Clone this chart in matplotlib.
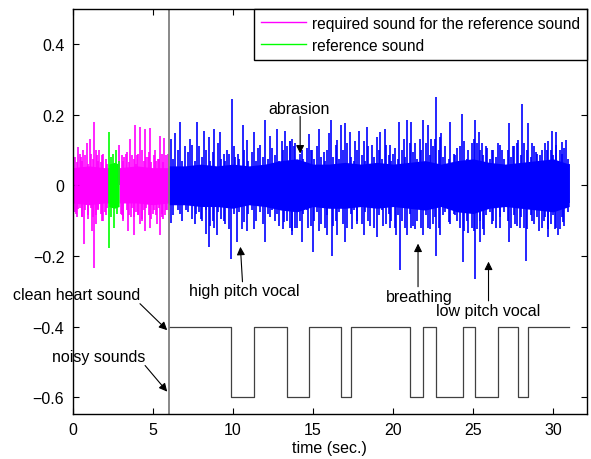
import numpy as np
import matplotlib
matplotlib.use('Agg')
import matplotlib.pyplot as plt

plt.rcParams['font.family'] = ['Liberation Sans', 'DejaVu Sans']
plt.rcParams['font.size'] = 11.5

# ---- data ---------------------------------------------------------
# dense core of each signal (upper / lower envelope)
mag_core_t  = [0, 1, 2, 2.25]
mag_core_hi = [0.05, 0.055, 0.05, 0.05]
mag_core_lo = [-0.05, -0.055, -0.05, -0.05]
mag_core2_t  = [2.9, 4, 5, 6]
mag_core2_hi = [0.05, 0.055, 0.05, 0.05]
mag_core2_lo = [-0.05, -0.05, -0.055, -0.05]

grn_core_t  = [2.25, 2.6, 2.9]
grn_core_hi = [0.06, 0.065, 0.06]
grn_core_lo = [-0.06, -0.065, -0.06]

blu_core_t  = [6, 7, 8, 9, 10, 11, 12, 13, 14, 15, 16, 17, 18, 19, 20, 21, 22,
               23, 24, 25, 26, 27, 28, 29, 30, 31]
blu_core_hi = [0.055, 0.055, 0.06, 0.055, 0.06, 0.055, 0.06, 0.07, 0.075, 0.06,
               0.06, 0.065, 0.06, 0.065, 0.06, 0.065, 0.07, 0.06, 0.07, 0.075,
               0.065, 0.06, 0.065, 0.07, 0.075, 0.06]
blu_core_lo = [-0.055, -0.055, -0.06, -0.06, -0.065, -0.055, -0.06, -0.07, -0.075,
               -0.06, -0.065, -0.065, -0.06, -0.065, -0.06, -0.065, -0.07, -0.06,
               -0.075, -0.08, -0.065, -0.06, -0.065, -0.07, -0.075, -0.06]

# large spikes (time, amplitude)
mag_up_t = [0.04, 0.35, 0.66, 0.87, 1.08, 1.35, 1.66, 1.91, 2.92, 3.2, 3.58, 3.89,
            4.2, 4.52, 4.83, 5.14, 5.45, 5.7, 5.97, 0.5, 1.5, 3.3, 4.0, 4.7, 5.3]
mag_up_v = [0.109, 0.109, 0.10, 0.12, 0.13, 0.178, 0.10, 0.09, 0.115, 0.08, 0.13,
            0.17, 0.165, 0.16, 0.163, 0.10, 0.14, 0.135, 0.09, 0.08, 0.085, 0.09,
            0.085, 0.08, 0.075]
mag_dn_t = [0.04, 0.35, 0.7, 0.97, 1.18, 1.35, 1.6, 1.91, 3.16, 3.47, 3.83, 4.2,
            4.52, 4.83, 5.24, 5.45, 5.76, 0.2, 0.55, 1.45, 2.0, 3.0, 3.65, 4.05,
            4.35, 5.0, 5.6, 5.9]
mag_dn_v = [-0.104, -0.066, -0.165, -0.085, -0.13, -0.235, -0.066, -0.10, -0.10,
            -0.13, -0.14, -0.11, -0.13, -0.12, -0.11, -0.14, -0.085, -0.08, -0.09,
            -0.11, -0.075, -0.08, -0.09, -0.085, -0.095, -0.08, -0.09, -0.07]

# medium spikes (time, up amplitude, down amplitude)
mag_mid_t = [0.15, 0.25, 0.45, 0.6, 0.75, 0.95, 1.15, 1.25, 1.45, 1.55, 1.75,
             1.85, 2.05, 2.15, 3.05, 3.15, 3.4, 3.5, 3.7, 3.8, 3.95, 4.1, 4.3,
             4.45, 4.6, 4.75, 4.9, 5.05, 5.2, 5.4, 5.55, 5.65, 5.85]
mag_mid_up = [0.08, 0.065, 0.09, 0.07, 0.085, 0.06, 0.09, 0.075, 0.1, 0.07,
              0.065, 0.085, 0.075, 0.06, 0.085, 0.07, 0.095, 0.065, 0.085, 0.075,
              0.06, 0.09, 0.1, 0.07, 0.08, 0.095, 0.065, 0.085, 0.07, 0.075,
              0.09, 0.065, 0.085]
mag_mid_dn = [-0.075, -0.09, -0.065, -0.09, -0.07, -0.095, -0.065, -0.09, -0.085,
              -0.07, -0.08, -0.1, -0.085, -0.065, -0.085, -0.095, -0.07, -0.085,
              -0.065, -0.09, -0.075, -0.085, -0.1, -0.07, -0.065, -0.085, -0.095,
              -0.07, -0.085, -0.065, -0.08, -0.095, -0.07]

grn_up_t = [2.29, 2.4, 2.54, 2.7, 2.88]
grn_up_v = [0.151, 0.08, 0.09, 0.1, 0.07]
grn_dn_t = [2.25, 2.4, 2.58, 2.75]
grn_dn_v = [-0.177, -0.09, -0.12, -0.08]

blu_up_t = [6.12, 6.4, 6.7, 7.0, 7.3, 7.79, 8.17, 8.48, 8.8, 9.17, 9.42, 9.63, 9.94,
            10.15, 10.35, 10.62, 10.87, 11.29, 11.54, 12.02, 12.33, 12.75, 13.06,
            13.27, 13.58, 13.79, 14.3, 14.73, 14.94, 15.35, 15.66, 15.98, 16.12,
            16.5, 16.77, 17.02, 17.33, 17.64, 17.85, 18.16, 18.37, 18.68, 19.0,
            19.2, 19.5, 19.8, 20.0, 20.35, 20.66, 20.87, 21.14, 21.4, 21.66, 21.9,
            22.17, 22.4, 22.71, 22.92, 23.0, 23.58, 23.88, 24.3, 24.6, 25.14, 25.35,
            25.56, 25.87, 26.18, 26.54, 26.8, 27.23, 27.5, 27.8, 28.06, 28.4, 28.7,
            28.9, 29.2, 29.6, 29.9, 30.2, 30.52, 30.8, 30.98]
blu_up_v = [0.132, 0.148, 0.18, 0.11, 0.13, 0.18, 0.155, 0.137, 0.16, 0.15, 0.09,
            0.10, 0.245, 0.08, 0.09, 0.17, 0.127, 0.15, 0.107, 0.184, 0.14, 0.16,
            0.125, 0.155, 0.125, 0.11, 0.10, 0.145, 0.10, 0.16, 0.095, 0.148, 0.184,
            0.127, 0.17, 0.175, 0.15, 0.125, 0.155, 0.125, 0.165, 0.115, 0.137,
            0.15, 0.16, 0.115, 0.09, 0.18, 0.13, 0.184, 0.178, 0.12, 0.13, 0.184,
            0.17, 0.13, 0.25, 0.137, 0.148, 0.178, 0.085, 0.203, 0.075, 0.184,
            0.15, 0.12, 0.105, 0.10, 0.12, 0.10, 0.175, 0.11, 0.128, 0.23, 0.175,
            0.12, 0.095, 0.085, 0.10, 0.155, 0.15, 0.123, 0.128, 0.06]
blu_dn_t = [6.12, 6.7, 7.1, 7.7, 8.0, 8.3, 8.48, 8.8, 9.0, 9.42, 9.87, 10.25,
            10.56, 10.87, 11.29, 12.02, 12.33, 12.75, 13.17, 13.69, 14.0, 14.3,
            14.67, 15.0, 15.35, 15.88, 16.19, 16.5, 17.02, 17.44, 17.75, 18.16,
            18.58, 19.0, 19.4, 19.8, 20.2, 20.46, 20.87, 21.1, 21.4, 21.86, 22.2,
            22.71, 22.96, 23.58, 23.88, 24.37, 24.6, 25.14, 25.4, 25.66, 26.18,
            26.7, 27.23, 27.6, 27.9, 28.3, 28.7, 29.1, 29.4, 29.7, 30.1, 30.3,
            30.6, 30.98]
blu_dn_v = [-0.108, -0.08, -0.07, -0.08, -0.095, -0.137, -0.175, -0.12, -0.14,
            -0.10, -0.208, -0.16, -0.125, -0.13, -0.125, -0.16, -0.09, -0.08,
            -0.105, -0.14, -0.12, -0.16, -0.12, -0.19, -0.13, -0.14, -0.2, -0.14,
            -0.16, -0.125, -0.11, -0.14, -0.115, -0.145, -0.115, -0.12, -0.14,
            -0.24, -0.14, -0.12, -0.125, -0.14, -0.12, -0.2, -0.14, -0.11, -0.085,
            -0.217, -0.10, -0.264, -0.16, -0.14, -0.11, -0.12, -0.16, -0.11, -0.12,
            -0.215, -0.10, -0.13, -0.10, -0.145, -0.125, -0.14, -0.105, -0.05]

blu_mid_t = [6.25, 6.55, 6.8, 7.2, 7.45, 7.65, 7.9, 8.1, 8.35, 8.55,
             8.75, 9.05, 9.25, 9.5, 9.75, 10.05, 10.4, 10.7, 10.95, 11.2,
             11.45, 11.7, 11.9, 12.2, 12.45, 12.65, 12.9, 13.15, 13.35, 13.55,
             13.7, 13.85, 14.2, 14.4, 14.6, 14.85, 15.05, 15.25, 15.5, 15.75,
             15.9, 16.25, 16.45, 16.65, 16.9, 17.1, 17.4, 17.55, 17.75, 18.05,
             18.25, 18.45, 18.8, 19.1, 19.3, 19.55, 19.75, 19.9, 20.1, 20.3,
             20.55, 20.75, 21.05, 21.25, 21.5, 21.75, 22.05, 22.3, 22.5, 22.65,
             22.85, 23.1, 23.25, 23.5, 23.8, 24.0, 24.2, 24.45, 24.7, 24.95,
             25.05, 25.25, 25.45, 25.6, 25.8, 26.05, 26.25, 26.45, 26.65, 26.9,
             27.15, 27.35, 27.55, 27.75, 28.0, 28.15, 28.35, 28.6, 28.8, 29.0,
             29.3, 29.5, 29.65, 29.85, 30.0, 30.15, 30.4, 30.55, 30.7, 30.9]
blu_mid_up = [0.075, 0.1, 0.07, 0.095, 0.115, 0.07, 0.11, 0.08, 0.1, 0.07,
              0.095, 0.12, 0.075, 0.07, 0.09, 0.11, 0.075, 0.1, 0.07, 0.095,
              0.07, 0.115, 0.08, 0.075, 0.105, 0.085, 0.07, 0.1, 0.11, 0.125,
              0.13, 0.12, 0.09, 0.075, 0.105, 0.1, 0.075, 0.11, 0.08, 0.07,
              0.1, 0.08, 0.115, 0.075, 0.1, 0.12, 0.08, 0.07, 0.1, 0.085,
              0.07, 0.11, 0.08, 0.1, 0.075, 0.115, 0.085, 0.07, 0.105, 0.075,
              0.1, 0.08, 0.12, 0.095, 0.075, 0.1, 0.12, 0.085, 0.11, 0.13,
              0.1, 0.08, 0.11, 0.075, 0.09, 0.105, 0.11, 0.125, 0.1, 0.12,
              0.13, 0.12, 0.1, 0.085, 0.11, 0.075, 0.1, 0.08, 0.115, 0.075,
              0.1, 0.08, 0.11, 0.12, 0.085, 0.12, 0.1, 0.08, 0.11, 0.09,
              0.1, 0.12, 0.125, 0.1, 0.085, 0.115, 0.1, 0.09, 0.105, 0.075]
blu_mid_dn = [-0.085, -0.07, -0.1, -0.075, -0.095, -0.11, -0.075, -0.1, -0.07, -0.115,
              -0.1, -0.075, -0.095, -0.11, -0.125, -0.08, -0.075, -0.105, -0.08, -0.07,
              -0.1, -0.075, -0.11, -0.08, -0.07, -0.1, -0.115, -0.125, -0.1, -0.12,
              -0.13, -0.12, -0.1, -0.08, -0.07, -0.115, -0.1, -0.075, -0.11, -0.12,
              -0.085, -0.115, -0.1, -0.075, -0.11, -0.12, -0.08, -0.07, -0.1, -0.11,
              -0.075, -0.1, -0.12, -0.085, -0.07, -0.11, -0.08, -0.1, -0.12, -0.085,
              -0.1, -0.12, -0.08, -0.115, -0.1, -0.12, -0.085, -0.125, -0.11, -0.09,
              -0.12, -0.085, -0.075, -0.105, -0.08, -0.1, -0.12, -0.13, -0.135, -0.12,
              -0.13, -0.125, -0.1, -0.125, -0.085, -0.075, -0.1, -0.12, -0.09, -0.075,
              -0.1, -0.12, -0.085, -0.115, -0.09, -0.12, -0.125, -0.085, -0.11, -0.09,
              -0.12, -0.09, -0.125, -0.11, -0.085, -0.12, -0.125, -0.09, -0.115, -0.075]

# clean / noisy indicator
state_t = [6, 9.87, 11.33, 13.41, 14.73, 16.75, 17.39, 21.08, 21.87, 22.66,
           24.35, 25.1, 26.56, 27.83, 28.43, 31.0]
state_v = [-0.4, -0.6, -0.4, -0.6, -0.4, -0.6, -0.4, -0.6, -0.4, -0.6,
           -0.4, -0.6, -0.4, -0.6, -0.4, -0.4]

split_time = 6

# ---- figure ----------------------------------------------------------
fig = plt.figure(figsize=(5.91, 4.60), dpi=100)
ax = fig.add_axes([0.123, 0.098, 0.870, 0.881])

MAG = '#ff00ff'
GRN = '#00ff00'
BLU = '#0000ff'
lw = 1.2

ax.fill_between(mag_core_t, mag_core_lo, mag_core_hi, color=MAG, lw=0)
ax.fill_between(mag_core2_t, mag_core2_lo, mag_core2_hi, color=MAG, lw=0)
ax.vlines(mag_mid_t, mag_mid_dn, mag_mid_up, color=MAG, lw=lw)
ax.vlines(mag_up_t, 0, mag_up_v, color=MAG, lw=lw)
ax.vlines(mag_dn_t, mag_dn_v, 0, color=MAG, lw=lw)

ax.fill_between(grn_core_t, grn_core_lo, grn_core_hi, color=GRN, lw=0)
ax.vlines(grn_up_t, 0, grn_up_v, color=GRN, lw=lw)
ax.vlines(grn_dn_t, grn_dn_v, 0, color=GRN, lw=lw)

ax.fill_between(blu_core_t, blu_core_lo, blu_core_hi, color=BLU, lw=0)
ax.vlines(blu_mid_t, blu_mid_dn, blu_mid_up, color=BLU, lw=lw)
ax.vlines(blu_up_t, 0, blu_up_v, color=BLU, lw=lw)
ax.vlines(blu_dn_t, blu_dn_v, 0, color=BLU, lw=lw)

ax.step(state_t, state_v, where='post', color='#404040', lw=0.9)
ax.axvline(split_time, color='#7f7f7f', lw=1.3)

# legend proxies
ax.plot([], [], color=MAG, lw=1, label='required sound for the reference sound')
ax.plot([], [], color=GRN, lw=1, label='reference sound')
leg = ax.legend(loc='upper right', bbox_to_anchor=(1.0, 1.0), fancybox=False,
                framealpha=1, edgecolor='k', borderaxespad=0.0,
                handlelength=2.9, labelspacing=0.45, borderpad=0.45,
                handletextpad=0.4, fontsize=11.2)
leg.get_frame().set_linewidth(1.0)

# annotations
arrow = dict(arrowstyle='-|>', color='k', lw=0.8, mutation_scale=12,
             shrinkA=0, shrinkB=0)
notes = [
    ('abrasion', (14.14, 0.217), (14.2, 0.195), (14.2, 0.09)),
    ('high pitch vocal', (10.74, -0.298), (10.6, -0.273), (10.47, -0.174)),
    ('breathing', (21.61, -0.315), (21.56, -0.287), (21.56, -0.165)),
    ('low pitch vocal', (25.96, -0.355), (25.96, -0.327), (25.96, -0.216)),
    ('clean heart sound', (0.27, -0.31), (4.2, -0.335), (5.9, -0.41)),
    ('noisy sounds', (1.64, -0.485), (4.52, -0.51), (5.9, -0.584)),
]
for txt, tpos, tail, head in notes:
    ax.text(tpos[0], tpos[1], txt, ha='center', va='center', fontsize=11.5)
    ax.annotate('', xy=head, xytext=tail, arrowprops=arrow)

ax.set_xlim(0, 32.1)
ax.set_ylim(-0.647, 0.5)
ax.set_xticks([0, 5, 10, 15, 20, 25, 30])
ax.set_yticks([-0.6, -0.4, -0.2, 0, 0.2, 0.4])
ax.set_yticklabels(['\u22120.6', '\u22120.4', '\u22120.2', '0', '0.2', '0.4'])
ax.tick_params(direction='in', top=True, right=True, length=4, width=0.8,
               labelsize=11.5, pad=6)
for s in ax.spines.values():
    s.set_linewidth(1.0)
ax.set_xlabel('time (sec.)', fontsize=11.5, labelpad=2)

fig.savefig('out.png', dpi=100)
